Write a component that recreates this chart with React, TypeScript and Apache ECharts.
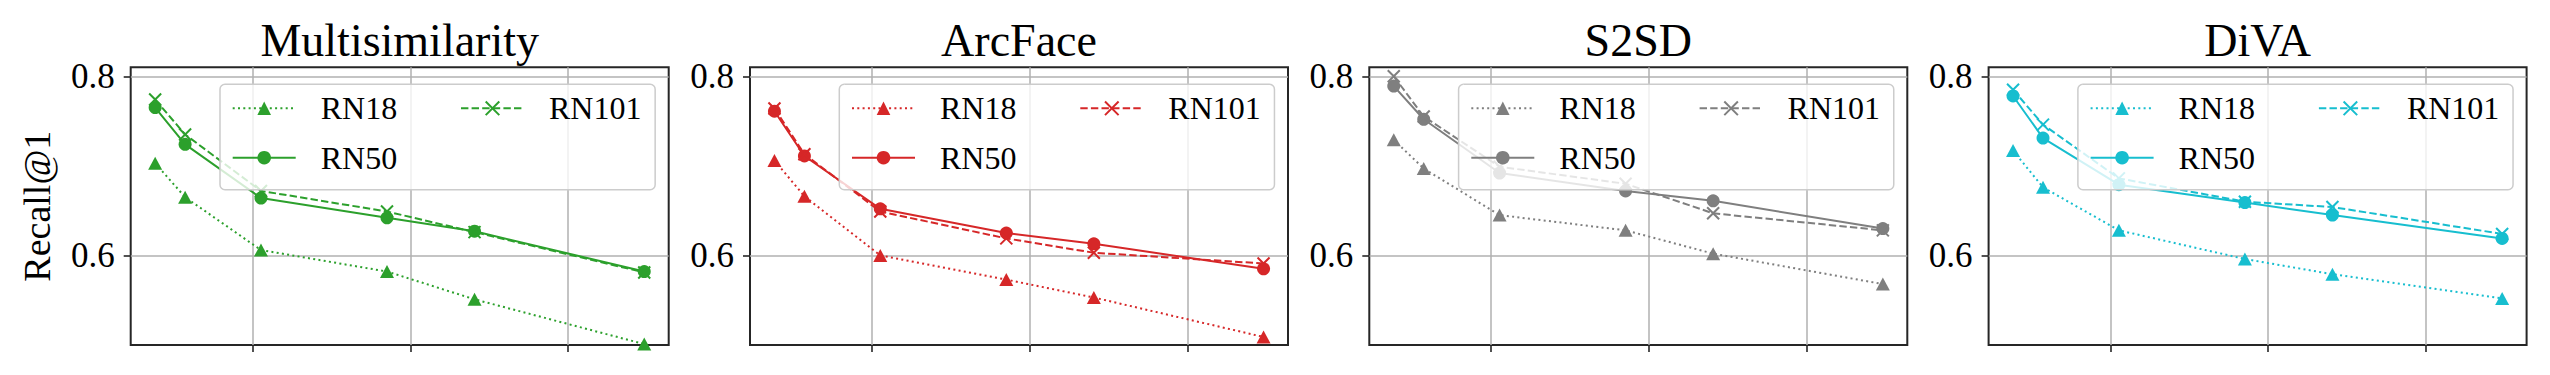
import React, { useEffect, useRef } from 'react';
import * as echarts from 'echarts';

const panels = ['Multisimilarity', 'ArcFace', 'S2SD', 'DiVA'];
const colors = ['#2ca02c', '#d62728', '#7f7f7f', '#17becf'];
const models = ['RN18', 'RN50', 'RN101'];
const xValues = [0.382, 0.572, 1.053, 1.852, 2.407, 3.483];
const xTicks = [1, 2, 3];
const yTicks = [0.6, 0.8];
const yLabel = 'Recall@1';

const msRN18 = [0.703, 0.665, 0.606, 0.582, 0.551, 0.501];
const msRN50 = [0.765, 0.724, 0.664, 0.642, 0.627, 0.582];
const msRN101 = [0.774, 0.735, 0.672, 0.649, 0.626, 0.581];
const afRN18 = [0.706, 0.666, 0.6, 0.573, 0.553, 0.509];
const afRN50 = [0.761, 0.711, 0.652, 0.625, 0.613, 0.585];
const afRN101 = [0.764, 0.713, 0.649, 0.619, 0.603, 0.591];
const s2RN18 = [0.729, 0.697, 0.645, 0.628, 0.602, 0.568];
const s2RN50 = [0.789, 0.752, 0.692, 0.672, 0.661, 0.63];
const s2RN101 = [0.8, 0.755, 0.699, 0.68, 0.647, 0.628];
const dvRN18 = [0.717, 0.676, 0.628, 0.596, 0.579, 0.552];
const dvRN50 = [0.778, 0.731, 0.679, 0.659, 0.645, 0.619];
const dvRN101 = [0.785, 0.746, 0.686, 0.66, 0.654, 0.624];

const panelData = [
  [msRN18, msRN50, msRN101],
  [afRN18, afRN50, afRN101],
  [s2RN18, s2RN50, s2RN101],
  [dvRN18, dvRN50, dvRN101],
];

const FONT = 'Liberation Serif';
const GRID_LEFT0 = 130.7;
const PITCH = 619.3;
const GRID_TOP = 67.3;
const GRID_W = 538;
const GRID_H = 277.7;

const xRange = xValues[xValues.length - 1] - xValues[0];
const xMin = xValues[0] - 0.05 * xRange;
const xMax = xValues[xValues.length - 1] + 0.05 * xRange;

const symbols = ['triangle', 'circle', 'path://M0,0L10,10M0,10L10,0'];
const symbolSizes: any[] = [[14, 13], 13, 12];
const lineTypes: any[] = [[2, 3.3], 'solid', [7.4, 3.2]];

export default function App() {
  const ref = useRef<HTMLDivElement>(null);
  useEffect(() => {
    document.body.style.margin = '0';
    if (!ref.current) return;
    const chart = echarts.init(ref.current, null, { renderer: 'svg' });

    const grid: any[] = [];
    const xAxis: any[] = [];
    const yAxis: any[] = [];
    const series: any[] = [];
    const legend: any[] = [];
    const graphic: any[] = [];

    panels.forEach((p, i) => {
      const ox = GRID_LEFT0 + PITCH * i;
      const color = colors[i];
      grid.push({
        left: ox,
        top: GRID_TOP,
        width: GRID_W,
        height: GRID_H,
        show: true,
        borderColor: '#262626',
        borderWidth: 2,
        backgroundColor: 'transparent',
      });
      xAxis.push({
        type: 'value',
        gridIndex: i,
        min: xMin,
        max: xMax,
        axisLine: { show: false },
        axisTick: {
          show: true,
          customValues: xTicks,
          length: 7,
          lineStyle: { color: '#262626', width: 1.6 },
        },
        axisLabel: { show: false },
        splitLine: { show: true, lineStyle: { color: '#b0b0b0', width: 1.5 } },
      });
      yAxis.push({
        type: 'value',
        gridIndex: i,
        min: 0.5,
        max: 0.81,
        axisLine: { show: false },
        axisTick: {
          show: true,
          customValues: yTicks,
          length: 7,
          lineStyle: { color: '#262626', width: 1.6 },
        },
        axisLabel: {
          show: true,
          customValues: yTicks,
          formatter: (v: number) => v.toFixed(1),
          fontFamily: FONT,
          fontSize: 35,
          color: '#000',
          margin: 16,
        },
        splitLine: { show: true, lineStyle: { color: '#b0b0b0', width: 1.5 } },
      });
      models.forEach((m, k) => {
        const ys = panelData[i][k];
        series.push({
          type: 'line',
          name: p + '|' + m,
          xAxisIndex: i,
          yAxisIndex: i,
          data: xValues.map((x, j) => [x, ys[j]]),
          symbol: symbols[k],
          symbolSize: symbolSizes[k],
          showSymbol: true,
          clip: true,
          lineStyle: { color, width: 2, type: lineTypes[k] },
          itemStyle: {
            color,
            borderColor: color,
            borderWidth: k === 2 ? 2 : 0,
          },
        });
      });
      const legendCommon = {
        orient: 'vertical',
        itemWidth: 63,
        itemHeight: 17,
        selectedMode: false,
        formatter: (n: string) => n.split('|')[1],
        textStyle: {
          fontFamily: FONT,
          fontSize: 32,
          color: '#000',
          padding: [0, 0, 0, 20],
        },
      };
      legend.push({
        ...legendCommon,
        left: ox + 89.3,
        top: 84.3,
        padding: [8, 258, 16, 11.7],
        itemGap: 17.4,
        backgroundColor: 'rgba(255,255,255,0.8)',
        borderColor: '#cccccc',
        borderWidth: 1.5,
        borderRadius: 5,
        data: [p + '|RN18', p + '|RN50'],
      });
      legend.push({
        ...legendCommon,
        left: ox + 329.3,
        top: 92.3,
        padding: 0,
        data: [p + '|RN101'],
      });
      graphic.push({
        type: 'text',
        x: ox + GRID_W / 2,
        y: 40,
        style: {
          text: p,
          fontFamily: FONT,
          fontSize: 46,
          fill: '#000',
          align: 'center',
          verticalAlign: 'middle',
        },
      });
    });

    graphic.push({
      type: 'text',
      x: 37,
      y: GRID_TOP + GRID_H / 2,
      rotation: Math.PI / 2,
      style: {
        text: yLabel,
        fontFamily: FONT,
        fontSize: 38,
        fill: '#000',
        align: 'center',
        verticalAlign: 'middle',
      },
    });

    chart.setOption({
      animation: false,
      backgroundColor: '#ffffff',
      textStyle: { fontFamily: FONT },
      grid,
      xAxis,
      yAxis,
      series,
      legend,
      graphic,
    });
    return () => chart.dispose();
  }, []);
  return <div ref={ref} style={{ width: 2550, height: 375 }} />;
}
